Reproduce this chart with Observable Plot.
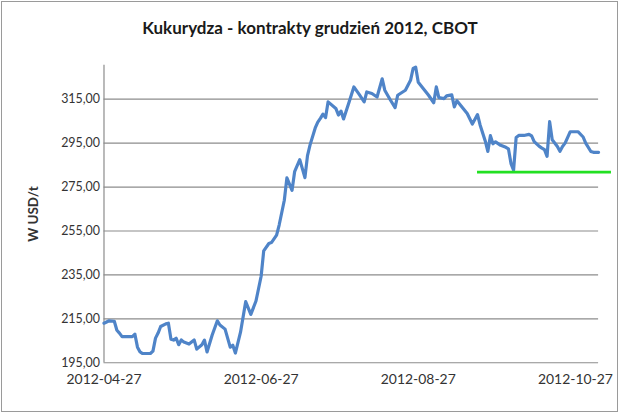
<!DOCTYPE html>
<html><head><meta charset="utf-8">
<script src="https://cdn.jsdelivr.net/npm/d3@7"></script>
<script src="https://cdn.jsdelivr.net/npm/@observablehq/plot@0.6"></script>
<style>
body{margin:0;background:#fff;}
#wrap{position:relative;width:620px;height:413px;overflow:hidden;background:#fff;}
#frame{position:absolute;left:1px;top:1px;width:615px;height:409px;border:1px solid #9a9a9a;overflow:hidden;}
#chart{position:absolute;left:-2px;top:-2px;}
#title{position:absolute;left:0;top:17px;width:620px;text-align:center;font:bold 17px Lato, sans-serif;color:#1a1a1a;}
#chart [aria-label="y-axis label"] text{font-weight:bold;font-size:13.5px;}
</style>
</head><body>
<div id="wrap"><div id="frame"><div id="chart"></div></div><div id="title">Kukurydza - kontrakty grudzień 2012, CBOT</div></div>
<script>
const dates = ["2012-04-27","2012-04-29","2012-05-01","2012-05-02","2012-05-03","2012-05-04","2012-05-08","2012-05-09","2012-05-10","2012-05-11","2012-05-12","2012-05-15","2012-05-16","2012-05-17","2012-05-18","2012-05-19","2012-05-21","2012-05-22","2012-05-23","2012-05-24","2012-05-25","2012-05-26","2012-05-27","2012-05-28","2012-05-30","2012-06-01","2012-06-02","2012-06-04","2012-06-05","2012-06-06","2012-06-08","2012-06-10","2012-06-11","2012-06-13","2012-06-15","2012-06-16","2012-06-17","2012-06-19","2012-06-21","2012-06-23","2012-06-25","2012-06-27","2012-06-28","2012-06-30","2012-07-01","2012-07-03","2012-07-04","2012-07-06","2012-07-07","2012-07-09","2012-07-10","2012-07-12","2012-07-14","2012-07-15","2012-07-16","2012-07-18","2012-07-19","2012-07-20","2012-07-21","2012-07-22","2012-07-23","2012-07-26","2012-07-27","2012-07-28","2012-07-29","2012-07-31","2012-08-02","2012-08-04","2012-08-06","2012-08-07","2012-08-09","2012-08-11","2012-08-13","2012-08-14","2012-08-16","2012-08-18","2012-08-19","2012-08-22","2012-08-24","2012-08-25","2012-08-26","2012-08-27","2012-08-29","2012-08-31","2012-09-02","2012-09-03","2012-09-04","2012-09-06","2012-09-07","2012-09-09","2012-09-10","2012-09-11","2012-09-15","2012-09-17","2012-09-19","2012-09-20","2012-09-22","2012-09-23","2012-09-24","2012-09-25","2012-09-26","2012-09-28","2012-09-30","2012-10-01","2012-10-02","2012-10-03","2012-10-04","2012-10-05","2012-10-07","2012-10-09","2012-10-10","2012-10-11","2012-10-13","2012-10-14","2012-10-15","2012-10-16","2012-10-17","2012-10-18","2012-10-20","2012-10-21","2012-10-22","2012-10-23","2012-10-25","2012-10-28","2012-10-30","2012-10-31","2012-11-02","2012-11-03","2012-11-05"];
const prices = [213.0,214.1,213.9,209.8,208.5,206.9,206.9,208.0,202.1,199.9,199.2,199.2,200.3,206.2,208.5,211.5,212.7,213.0,205.7,205.3,206.2,203.2,205.4,204.4,203.5,205.4,201.2,203.2,205.3,199.9,207.6,214.1,212.2,210.3,202.1,203.0,199.4,208.9,222.8,217.0,223.1,234.4,245.9,249.3,249.7,253.1,257.7,269.0,279.2,273.5,282.0,287.5,279.3,289.3,294.2,301.9,304.6,306.3,308.2,306.6,313.8,310.8,307.8,309.6,306.0,313.2,320.6,317.3,313.8,318.3,317.6,316.0,324.3,319.1,315.0,311.2,316.8,319.1,323.6,329.0,329.6,322.7,319.8,316.8,313.4,320.6,315.7,315.3,316.5,317.0,311.5,314.3,308.5,303.7,308.0,303.3,296.0,291.2,298.4,294.7,295.6,294.0,293.1,292.4,285.7,282.7,297.6,298.5,298.5,299.0,298.3,295.7,293.5,292.7,292.0,289.0,304.8,296.5,293.5,291.3,293.5,295.0,300.2,300.2,297.8,295.0,291.2,290.8,290.8];
const yTicks = [195, 215, 235, 255, 275, 295, 315];
const xTicks = ["2012-04-27", "2012-06-27", "2012-08-27", "2012-10-27"];
const supportLevel = 281.8;
const supportStart = "2012-09-19";
const supportEnd = "2012-11-10";
const xDomain = ["2012-04-27", "2012-11-05"];
const yDomain = [195, 330.5];

const series = dates.map((d, i) => ({date: new Date(d), price: prices[i]}));
const support = [{y: supportLevel, x1: new Date(supportStart), x2: new Date(supportEnd)}];
const fmtY = d => d.toFixed(2).replace(".", ",");

const chart = Plot.plot({
  width: 620, height: 413,
  marginTop: 65, marginBottom: 49, marginLeft: 104, marginRight: 19,
  style: {fontFamily: "Lato, sans-serif", fontSize: "12px", color: "#333", background: "transparent"},
  x: {type: "utc", domain: xDomain.map(d => new Date(d))},
  y: {domain: yDomain},
  marks: [
    Plot.gridY(yTicks.slice(1), {stroke: "#8c8c8c", strokeOpacity: 1, strokeWidth: 1.2}),
    Plot.axisY(yTicks, {tickSize: 0, tickPadding: 4, tickFormat: fmtY, label: "W USD/t", labelAnchor: "center", labelArrow: "none", labelOffset: 76, fontSize: 12.5}),
    Plot.axisX(xTicks.map(d => new Date(d)), {tickSize: 0, tickPadding: 11, tickFormat: d3.utcFormat("%Y-%m-%d"), label: null, fontSize: 14}),
    Plot.ruleY([yDomain[0]], {stroke: "#8c8c8c", strokeWidth: 1.2}),
    Plot.ruleX([new Date(xDomain[0])], {stroke: "#8c8c8c", strokeWidth: 1.2}),
    Plot.lineY(series, {x: "date", y: "price", stroke: "#4F84C8", strokeWidth: 3.2}),
    Plot.ruleY(support, {y: "y", x1: "x1", x2: "x2", stroke: "#22e022", strokeWidth: 3})
  ]
});
document.getElementById("chart").appendChild(chart);
</script>
</body></html>
